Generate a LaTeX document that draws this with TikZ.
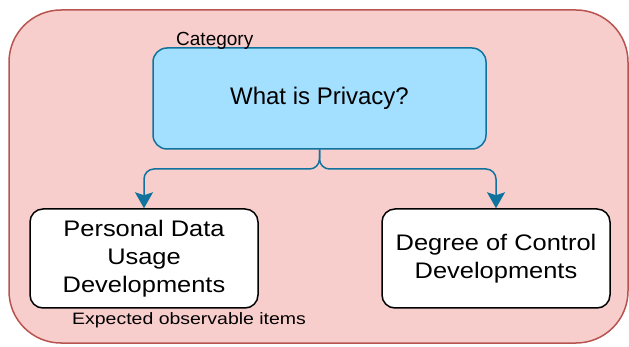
\documentclass[tikz,border=0pt]{standalone}
\usepackage{fontspec}
\setmainfont{Liberation Sans}
\newfontfamily\boxfont[FakeStretch=1.13]{Liberation Sans}
\newfontfamily\notefont[FakeStretch=1.18]{Liberation Sans}
\usetikzlibrary{arrows.meta}
\definecolor{panelfill}{HTML}{F8CECC}
\definecolor{paneledge}{HTML}{B85450}
\definecolor{topfill}{HTML}{A3E0FF}
\definecolor{topedge}{HTML}{10739E}
\tikzset{
  panel/.style={draw=paneledge, fill=panelfill, line width=1.5pt, rounded corners=52pt},
  topbox/.style={draw=topedge, fill=topfill, line width=1.5pt, rounded corners=14pt,
    minimum width=333pt, minimum height=101pt, inner sep=0pt,
    font=\fontsize{24}{28}\selectfont},
  itembox/.style={draw=black, fill=white, line width=1.5pt, rounded corners=13pt,
    minimum width=228pt, minimum height=99pt, inner sep=0pt, align=center,
    font=\boxfont\fontsize{22.5}{28}\selectfont},
  link/.style={draw=topedge, line width=1.5pt, rounded corners=10pt,
    -{Stealth[length=16pt,width=18pt,inset=3pt]}},
  note/.style={inner sep=0pt}
}
\begin{document}
\begin{tikzpicture}[x=1pt,y=-1pt]
  \useasboundingbox (0,0) rectangle (629,347);
  % outer container
  \path[panel] (9,10) rectangle (628,343);
  % category and its two items
  \node[topbox] (cat) at (319.5,98.5) {What is Privacy?};
  \node[itembox] (usage) at (144,258.5) {Personal Data\\Usage\\Developments};
  \node[itembox] (control) at (496,258.5) {Degree of Control\\Developments};
  % labels
  \node[note, anchor=base west, font=\fontsize{19}{22}\selectfont] (catlabel) at (176,46) {Category};
  \node[note, anchor=base west, font=\notefont\fontsize{16.5}{20}\selectfont] (itemlabel) at (72,324) {Expected observable items};
  % branching connectors
  \coordinate (split) at (319.5,169);
  \draw[link] (cat.south) -- (split) -| (usage.north);
  \draw[link] (cat.south) -- (split) -| (control.north);
\end{tikzpicture}
\end{document}
